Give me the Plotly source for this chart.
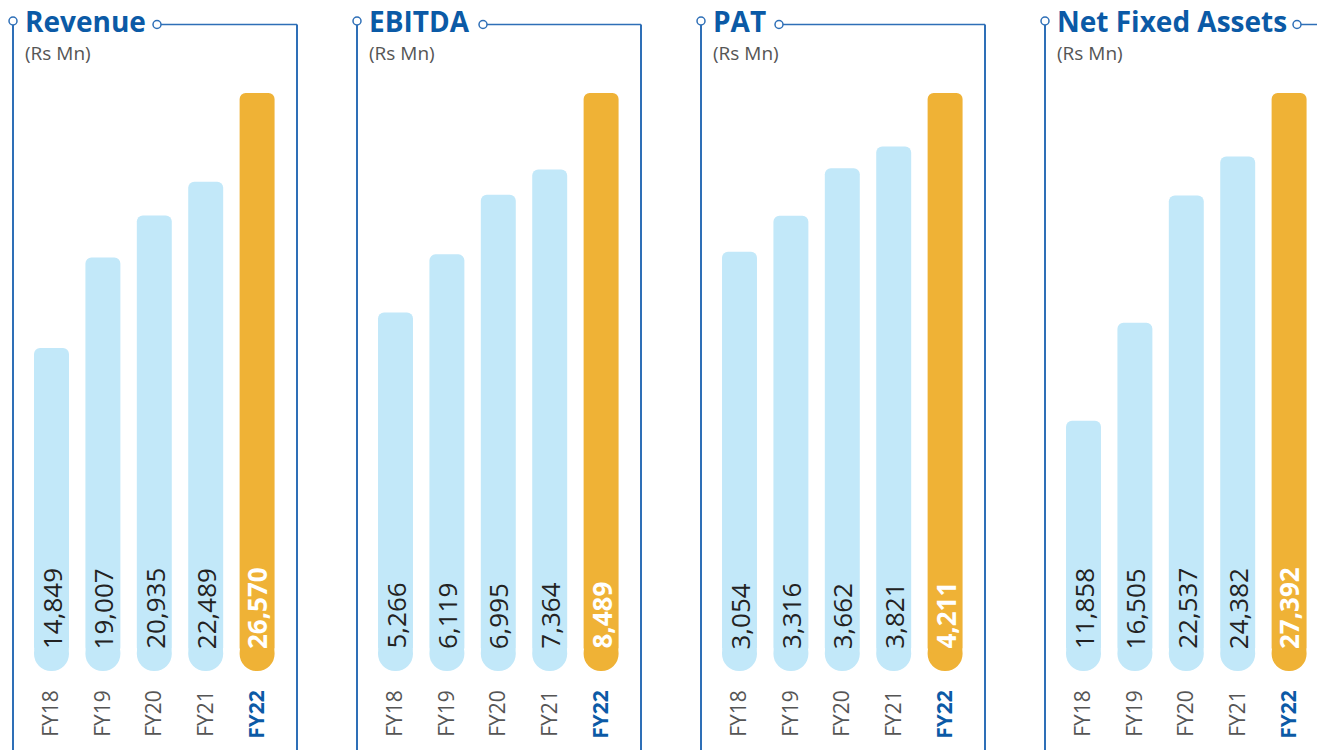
import plotly.graph_objects as go

# data (Rs Mn)
years = ["FY18", "FY19", "FY20", "FY21", "FY22"]
revenue = [14849, 19007, 20935, 22489, 26570]
ebitda = [5266, 6119, 6995, 7364, 8489]
pat = [3054, 3316, 3662, 3821, 4211]
net_fixed_assets = [11858, 16505, 22537, 24382, 27392]

titles = ["Revenue", "EBITDA", "PAT", "Net Fixed Assets"]
series = [revenue, ebitda, pat, net_fixed_assets]

W, H = 1317, 750
BLUE = "#0b5aa6"
LINE = "#2e6fb7"
LIGHT = "#c2e8f9"
ORANGE = "#efb236"
GREY = "#555555"


def px(x):
    return x / W


def py(y):
    return 1 - y / H


panel_left = [13, 357, 701, 1045]
dot_x = [157, 483, 779, 1297]
plot_top, plot_bottom = 93, 671
foot = 17.5  # radius of the rounded foot of each bar, px

fig = go.Figure()
shapes, annotations = [], []
ticktext = years[:-1] + [f"<span style='color:{BLUE}'><b>{years[-1]}</b></span>"]

for i, (name, vals) in enumerate(zip(titles, series)):
    n = "" if i == 0 else str(i + 1)
    left = panel_left[i]
    right = left + 284
    x0 = left + 12.8
    ymax = max(vals)
    r = ymax * foot / (plot_bottom - plot_top)
    colors = [LIGHT] * 4 + [ORANGE]

    # rounded foot (drawn first, the body covers its upper half)
    fig.add_trace(go.Bar(
        x=years, y=[-2 * r] * len(vals), base=[2 * r] * len(vals),
        marker=dict(color=colors, cornerradius="50%", line_width=0),
        width=0.68, xaxis="x" + n, yaxis="y" + n,
        showlegend=False, hoverinfo="skip"))
    # body of the bar (rounded top)
    fig.add_trace(go.Bar(
        x=years, y=[v - r for v in vals], base=[r] * len(vals),
        marker=dict(color=colors, cornerradius=6, line_width=0),
        width=0.68, xaxis="x" + n, yaxis="y" + n,
        showlegend=False, hoverinfo="skip"))

    # value labels, written upwards from the foot of each bar
    for j, (yr, v) in enumerate(zip(years, vals)):
        last = j == len(vals) - 1
        annotations.append(dict(
            text=f"<b>{v:,}</b>" if last else f"{v:,}",
            x=yr, y=0, xref="x" + n, yref="y" + n, textangle=-90,
            xanchor="center", yanchor="bottom", yshift=20, showarrow=False,
            font=dict(family="Open Sans", size=26,
                      color="white" if last else "#222222")))

    fig.update_layout({
        "xaxis" + n: dict(domain=[px(x0), px(x0 + 257)], anchor="y" + n,
                          type="category", range=[-0.5, 4.5],
                          tickvals=years, ticktext=ticktext, tickangle=-90,
                          tickfont=dict(family="Open Sans", size=21, color=GREY),
                          ticklabelstandoff=14, showgrid=False,
                          showline=False, zeroline=False, ticks=""),
        "yaxis" + n: dict(domain=[py(plot_bottom), py(plot_top)],
                          anchor="x" + n, range=[0, ymax], visible=False),
    })

    # frame: left rule with dot, title dot with rule running right and down
    shapes += [
        dict(type="line", xref="paper", yref="paper", x0=px(left), x1=px(left),
             y0=py(25), y1=py(H + 5), line=dict(color=LINE, width=2)),
        dict(type="circle", xref="paper", yref="paper",
             x0=px(left - 4), x1=px(left + 4), y0=py(17), y1=py(25),
             fillcolor="white", line=dict(color=LINE, width=1.5)),
        dict(type="line", xref="paper", yref="paper", x0=px(dot_x[i] + 4),
             x1=px(right), y0=py(24.5), y1=py(24.5),
             line=dict(color=LINE, width=1.5)),
        dict(type="line", xref="paper", yref="paper", x0=px(right), x1=px(right),
             y0=py(24.5), y1=py(H + 5), line=dict(color=LINE, width=2)),
        dict(type="circle", xref="paper", yref="paper",
             x0=px(dot_x[i] - 4), x1=px(dot_x[i] + 4), y0=py(20.5), y1=py(28.5),
             fillcolor="white", line=dict(color=LINE, width=1.5)),
    ]
    annotations += [
        dict(text=f"<b>{name}</b>", x=px(left + 10), y=py(21), xref="paper",
             yref="paper", xanchor="left", yanchor="middle", showarrow=False,
             font=dict(family="Open Sans", size=28, color=BLUE)),
        dict(text="(Rs Mn)", x=px(left + 10), y=py(53), xref="paper",
             yref="paper", xanchor="left", yanchor="middle", showarrow=False,
             font=dict(family="Open Sans", size=19, color=GREY)),
    ]

fig.update_layout(
    width=W, height=H, margin=dict(l=0, r=0, t=0, b=0),
    paper_bgcolor="white", plot_bgcolor="white",
    barmode="overlay", shapes=shapes, annotations=annotations,
    font=dict(family="Open Sans"),
)

# drop the browser's default page margin so the figure sits at the top-left
fig.write_html("out.html", config={"displayModeBar": False},
               post_script="document.body.style.margin='0';"
               "document.body.style.overflow='hidden';")
